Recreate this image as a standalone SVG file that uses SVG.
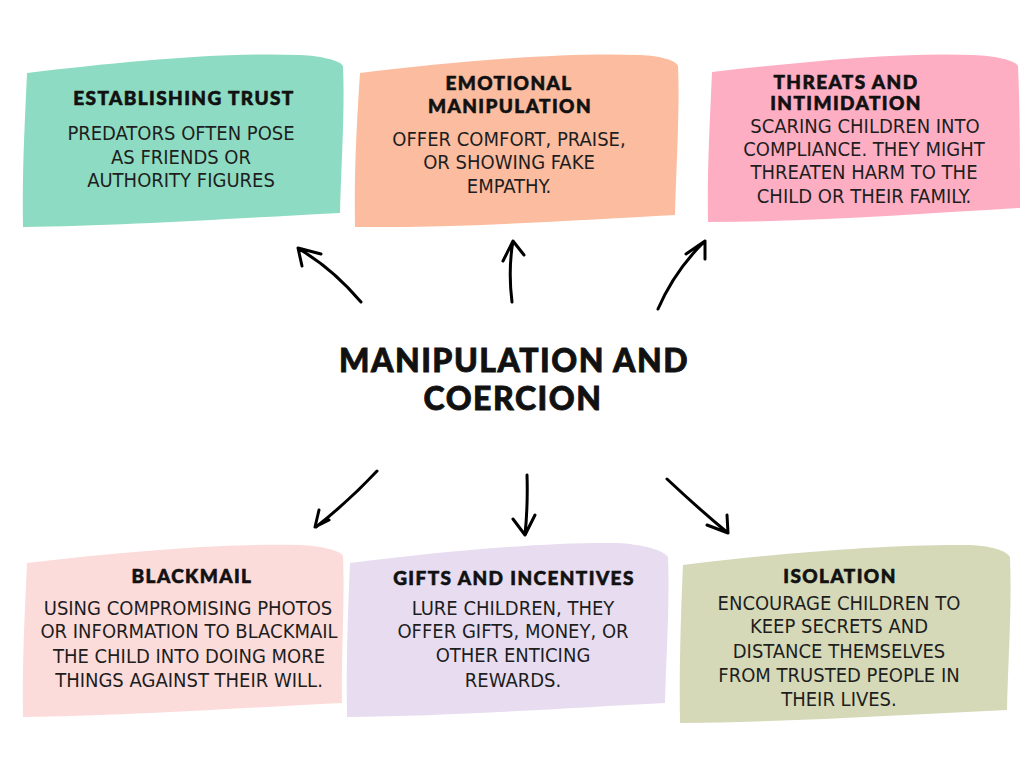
<svg xmlns="http://www.w3.org/2000/svg" width="1024" height="768" viewBox="0 0 1024 768">
<style>
.title{font-family:"Lato","Noto Sans",sans-serif;font-weight:900;font-size:19px;letter-spacing:1.4px;fill:#111;stroke:#111;stroke-width:0.6;text-anchor:middle}
.main{font-family:"Lato","Noto Sans",sans-serif;font-weight:900;font-size:32px;letter-spacing:1.5px;fill:#111;stroke:#111;stroke-width:0.8;text-anchor:middle}
.body{font-family:"Liberation Sans Narrow","DejaVu Sans Condensed","Roboto",sans-serif;font-size:20px;fill:#1e1e1e;text-anchor:middle}
.arr{fill:none;stroke:#000;stroke-width:3;stroke-linecap:round;stroke-linejoin:round}
</style>
<rect width="1024" height="768" fill="#fff"/>
<g id="node-trust">
<path d="M27,73 C120,62 220,52 300,55 C320,56 340,60 343,66 C345,110 341,170 340,213 C240,218 120,226 23,227 C22,170 25,120 27,73 Z" fill="#8DDBC2"/>
<text class="title" x="184" y="105">ESTABLISHING TRUST</text>
<text class="body" x="181" y="140">PREDATORS OFTEN POSE</text>
<text class="body" x="181" y="164">AS FRIENDS OR</text>
<text class="body" x="181" y="187">AUTHORITY FIGURES</text>
</g>
<g id="node-emotional">
<path d="M360,73 C450,62 560,52 640,55 C660,56 676,60 678,66 C680,110 676,170 675,215 C580,220 460,228 355,227 C354,170 357,120 360,73 Z" fill="#FBBC9F"/>
<text class="title" x="509" y="90">EMOTIONAL</text>
<text class="title" x="510" y="113">MANIPULATION</text>
<text class="body" x="509" y="146">OFFER COMFORT, PRAISE,</text>
<text class="body" x="509" y="169">OR SHOWING FAKE</text>
<text class="body" x="509" y="193">EMPATHY.</text>
</g>
<g id="node-threats">
<path d="M712,72 C800,62 900,52 973,55 C995,56 1015,60 1018,66 C1020,110 1020,160 1020,208 C920,214 810,222 708,222 C707,170 710,120 712,72 Z" fill="#FDAEC3"/>
<text class="title" x="846" y="89">THREATS AND</text>
<text class="title" x="846" y="110">INTIMIDATION</text>
<text class="body" x="865" y="133">SCARING CHILDREN INTO</text>
<text class="body" x="864" y="156">COMPLIANCE. THEY MIGHT</text>
<text class="body" x="864" y="179">THREATEN HARM TO THE</text>
<text class="body" x="864" y="203">CHILD OR THEIR FAMILY.</text>
</g>
<g id="node-center">
<text class="main" x="514" y="372">MANIPULATION AND</text>
<text class="main" x="513" y="410">COERCION</text>
</g>
<g id="node-blackmail">
<path d="M27,563 C120,552 220,543 300,545 C320,546 340,550 343,556 C345,600 341,660 342,703 C240,708 120,716 23,717 C22,660 25,610 27,563 Z" fill="#FCDCDB"/>
<text class="title" x="192" y="583">BLACKMAIL</text>
<text class="body" x="188" y="615">USING COMPROMISING PHOTOS</text>
<text class="body" x="189" y="638">OR INFORMATION TO BLACKMAIL</text>
<text class="body" x="189" y="663">THE CHILD INTO DOING MORE</text>
<text class="body" x="189" y="687">THINGS AGAINST THEIR WILL.</text>
</g>
<g id="node-gifts">
<path d="M350,563 C440,552 540,542 617,543 C640,544 664,550 668,557 C670,600 666,660 665,703 C570,708 450,716 347,717 C346,660 348,610 350,563 Z" fill="#E8DDF0"/>
<text class="title" x="514" y="585">GIFTS AND INCENTIVES</text>
<text class="body" x="513" y="615">LURE CHILDREN, THEY</text>
<text class="body" x="513" y="638">OFFER GIFTS, MONEY, OR</text>
<text class="body" x="513" y="662">OTHER ENTICING</text>
<text class="body" x="513" y="687">REWARDS.</text>
</g>
<g id="node-isolation">
<path d="M683,565 C780,553 890,544 970,545 C990,546 1006,550 1010,557 C1012,610 1008,660 1007,710 C900,715 790,722 680,723 C679,670 681,610 683,565 Z" fill="#D5D9B8"/>
<text class="title" x="840" y="583">ISOLATION</text>
<text class="body" x="839" y="610">ENCOURAGE CHILDREN TO</text>
<text class="body" x="839" y="633">KEEP SECRETS AND</text>
<text class="body" x="839" y="658">DISTANCE THEMSELVES</text>
<text class="body" x="839" y="682">FROM TRUSTED PEOPLE IN</text>
<text class="body" x="839" y="706">THEIR LIVES.</text>
</g>
<g id="connectors">
<path class="arr" d="M361,302 Q332,268 299,249 M302,266 L298,248 L321,254"/>
<path class="arr" d="M512,302 Q508,270 513,241 M503,261 L513,241 L524,255"/>
<path class="arr" d="M658,309 Q675,270 705,241 M686,254 L705,241 L705,259"/>
<path class="arr" d="M377,471 Q350,500 316,527 M319,510 L315,527 L329,520"/>
<path class="arr" d="M527,475 Q528,505 525,535 M513,519 L525,535 L535,515"/>
<path class="arr" d="M667,479 Q700,510 728,533 M707,525 L728,533 L727,515"/>
</g>
</svg>
